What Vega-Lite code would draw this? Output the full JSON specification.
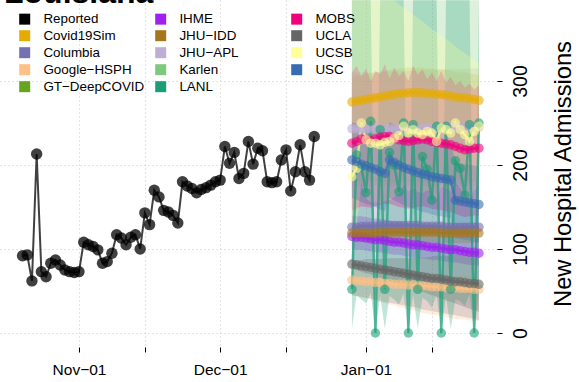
{
"$schema":"https://vega.github.io/schema/vega-lite/v6.json",
"width":497,"height":347,"autosize":"none",
"padding":{"left":0,"top":0,"right":82,"bottom":35},
"background":"white",
"title":{"text":"Louisiana","anchor":"start","frame":"group","orient":"top","offset":0,"dy":35,"baseline":"alphabetic","fontSize":32,"fontWeight":"bold","font":"Liberation Sans","color":"black","dx":4},
"config":{"font":"Liberation Sans","view":{"stroke":null},
"axis":{"domain":false,"tickColor":"black","tickSize":5,"labelColor":"black","titleColor":"black","gridColor":"#c8c8c8","gridDash":[1,3],"gridWidth":1,"labelFont":"Liberation Sans","titleFont":"Liberation Sans"},
"legend":{"orient":"none","legendX":18,"legendY":12,"columns":3,"gridAlign":"all","columnPadding":9,"rowPadding":2,"symbolType":"square","symbolSize":121,"symbolOpacity":1,"symbolStrokeWidth":0,"labelFontSize":13.4,"labelFont":"Liberation Sans","labelColor":"black","labelOffset":12,"padding":0,"titlePadding":0}},
"datasets":{
"rep":[
{"m":"Reported","d":"2020-10-20","v":92},{"m":"Reported","d":"2020-10-21","v":93},{"m":"Reported","d":"2020-10-22","v":62},{"m":"Reported","d":"2020-10-23","v":213},{"m":"Reported","d":"2020-10-24","v":73},{"m":"Reported","d":"2020-10-25","v":67},{"m":"Reported","d":"2020-10-26","v":83},{"m":"Reported","d":"2020-10-27","v":87},{"m":"Reported","d":"2020-10-28","v":81},{"m":"Reported","d":"2020-10-29","v":75},{"m":"Reported","d":"2020-10-30","v":73},{"m":"Reported","d":"2020-10-31","v":72},
{"m":"Reported","d":"2020-11-01","v":73},{"m":"Reported","d":"2020-11-02","v":108},{"m":"Reported","d":"2020-11-03","v":105},{"m":"Reported","d":"2020-11-04","v":103},{"m":"Reported","d":"2020-11-05","v":99},{"m":"Reported","d":"2020-11-06","v":83},{"m":"Reported","d":"2020-11-07","v":85},{"m":"Reported","d":"2020-11-08","v":95},{"m":"Reported","d":"2020-11-09","v":117},{"m":"Reported","d":"2020-11-10","v":113},
{"m":"Reported","d":"2020-11-11","v":105},{"m":"Reported","d":"2020-11-12","v":114},{"m":"Reported","d":"2020-11-13","v":117},{"m":"Reported","d":"2020-11-14","v":100},{"m":"Reported","d":"2020-11-15","v":143},{"m":"Reported","d":"2020-11-16","v":129},{"m":"Reported","d":"2020-11-17","v":170},{"m":"Reported","d":"2020-11-18","v":162},{"m":"Reported","d":"2020-11-19","v":146},{"m":"Reported","d":"2020-11-20","v":144},
{"m":"Reported","d":"2020-11-21","v":140},{"m":"Reported","d":"2020-11-22","v":131},{"m":"Reported","d":"2020-11-23","v":180},{"m":"Reported","d":"2020-11-24","v":175},{"m":"Reported","d":"2020-11-25","v":172},{"m":"Reported","d":"2020-11-26","v":167},{"m":"Reported","d":"2020-11-27","v":171},{"m":"Reported","d":"2020-11-28","v":173},{"m":"Reported","d":"2020-11-29","v":176},{"m":"Reported","d":"2020-11-30","v":180},
{"m":"Reported","d":"2020-12-01","v":182},{"m":"Reported","d":"2020-12-02","v":222},{"m":"Reported","d":"2020-12-03","v":202},{"m":"Reported","d":"2020-12-04","v":215},{"m":"Reported","d":"2020-12-05","v":184},{"m":"Reported","d":"2020-12-06","v":190},{"m":"Reported","d":"2020-12-07","v":228},{"m":"Reported","d":"2020-12-08","v":201},{"m":"Reported","d":"2020-12-09","v":220},{"m":"Reported","d":"2020-12-10","v":217},
{"m":"Reported","d":"2020-12-11","v":180},{"m":"Reported","d":"2020-12-12","v":179},{"m":"Reported","d":"2020-12-13","v":180},{"m":"Reported","d":"2020-12-14","v":206},{"m":"Reported","d":"2020-12-15","v":218},{"m":"Reported","d":"2020-12-16","v":169},{"m":"Reported","d":"2020-12-17","v":192},{"m":"Reported","d":"2020-12-18","v":224},{"m":"Reported","d":"2020-12-19","v":192},{"m":"Reported","d":"2020-12-20","v":182},{"m":"Reported","d":"2020-12-21","v":234}
],
"fc":[
{"m":"Covid19Sim","d":"2020-12-29","v":275,"lo":230,"hi":305},{"m":"Covid19Sim","d":"2020-12-30","v":276,"lo":231,"hi":306},{"m":"Covid19Sim","d":"2020-12-31","v":277,"lo":232,"hi":307},{"m":"Covid19Sim","d":"2021-01-01","v":278,"lo":233,"hi":308},{"m":"Covid19Sim","d":"2021-01-02","v":279,"lo":234,"hi":309},{"m":"Covid19Sim","d":"2021-01-03","v":280,"lo":235,"hi":310},{"m":"Covid19Sim","d":"2021-01-04","v":281,"lo":236,"hi":311},{"m":"Covid19Sim","d":"2021-01-05","v":282,"lo":237,"hi":312},{"m":"Covid19Sim","d":"2021-01-06","v":283,"lo":238,"hi":313},{"m":"Covid19Sim","d":"2021-01-07","v":284,"lo":239,"hi":314},{"m":"Covid19Sim","d":"2021-01-08","v":285,"lo":240,"hi":315},{"m":"Covid19Sim","d":"2021-01-09","v":285,"lo":240,"hi":315},{"m":"Covid19Sim","d":"2021-01-10","v":286,"lo":241,"hi":316},{"m":"Covid19Sim","d":"2021-01-11","v":286,"lo":241,"hi":316},{"m":"Covid19Sim","d":"2021-01-12","v":286,"lo":241,"hi":316},{"m":"Covid19Sim","d":"2021-01-13","v":286,"lo":241,"hi":316},{"m":"Covid19Sim","d":"2021-01-14","v":285,"lo":240,"hi":315},{"m":"Covid19Sim","d":"2021-01-15","v":285,"lo":240,"hi":315},{"m":"Covid19Sim","d":"2021-01-16","v":284,"lo":239,"hi":314},{"m":"Covid19Sim","d":"2021-01-17","v":284,"lo":239,"hi":314},{"m":"Covid19Sim","d":"2021-01-18","v":283,"lo":238,"hi":313},{"m":"Covid19Sim","d":"2021-01-19","v":282,"lo":237,"hi":312},{"m":"Covid19Sim","d":"2021-01-20","v":281,"lo":236,"hi":311},{"m":"Covid19Sim","d":"2021-01-21","v":280,"lo":235,"hi":310},{"m":"Covid19Sim","d":"2021-01-22","v":280,"lo":235,"hi":310},{"m":"Covid19Sim","d":"2021-01-23","v":279,"lo":234,"hi":309},{"m":"Covid19Sim","d":"2021-01-24","v":278,"lo":233,"hi":308},{"m":"Covid19Sim","d":"2021-01-25","v":277,"lo":232,"hi":307},
{"m":"Columbia","d":"2020-12-29","v":126,"lo":45,"hi":225},{"m":"Columbia","d":"2020-12-30","v":126,"lo":44,"hi":226},{"m":"Columbia","d":"2020-12-31","v":127,"lo":43,"hi":227},{"m":"Columbia","d":"2021-01-01","v":127,"lo":42,"hi":228},{"m":"Columbia","d":"2021-01-02","v":127,"lo":41,"hi":229},{"m":"Columbia","d":"2021-01-03","v":127,"lo":40,"hi":230},{"m":"Columbia","d":"2021-01-04","v":128,"lo":38,"hi":231},{"m":"Columbia","d":"2021-01-05","v":128,"lo":37,"hi":232},{"m":"Columbia","d":"2021-01-06","v":128,"lo":36,"hi":233},{"m":"Columbia","d":"2021-01-07","v":128,"lo":35,"hi":234},{"m":"Columbia","d":"2021-01-08","v":128,"lo":34,"hi":235},{"m":"Columbia","d":"2021-01-09","v":128,"lo":33,"hi":236},{"m":"Columbia","d":"2021-01-10","v":128,"lo":32,"hi":237},{"m":"Columbia","d":"2021-01-11","v":128,"lo":31,"hi":238},{"m":"Columbia","d":"2021-01-12","v":128,"lo":30,"hi":239},{"m":"Columbia","d":"2021-01-13","v":127,"lo":28,"hi":240},{"m":"Columbia","d":"2021-01-14","v":127,"lo":27,"hi":241},{"m":"Columbia","d":"2021-01-15","v":127,"lo":26,"hi":242},{"m":"Columbia","d":"2021-01-16","v":127,"lo":25,"hi":243},{"m":"Columbia","d":"2021-01-17","v":127,"lo":24,"hi":244},{"m":"Columbia","d":"2021-01-18","v":126,"lo":23,"hi":245},{"m":"Columbia","d":"2021-01-19","v":126,"lo":22,"hi":246},{"m":"Columbia","d":"2021-01-20","v":126,"lo":21,"hi":247},{"m":"Columbia","d":"2021-01-21","v":126,"lo":20,"hi":248},{"m":"Columbia","d":"2021-01-22","v":126,"lo":19,"hi":249},{"m":"Columbia","d":"2021-01-23","v":126,"lo":18,"hi":250},{"m":"Columbia","d":"2021-01-24","v":126,"lo":17,"hi":251},{"m":"Columbia","d":"2021-01-25","v":126,"lo":15,"hi":252},
{"m":"Google-HSPH","d":"2020-12-29","v":63,"lo":45,"hi":78},{"m":"Google-HSPH","d":"2020-12-30","v":62,"lo":44,"hi":77},{"m":"Google-HSPH","d":"2020-12-31","v":62,"lo":42,"hi":77},{"m":"Google-HSPH","d":"2021-01-01","v":61,"lo":41,"hi":76},{"m":"Google-HSPH","d":"2021-01-02","v":61,"lo":40,"hi":76},{"m":"Google-HSPH","d":"2021-01-03","v":60,"lo":38,"hi":75},{"m":"Google-HSPH","d":"2021-01-04","v":60,"lo":37,"hi":75},{"m":"Google-HSPH","d":"2021-01-05","v":59,"lo":35,"hi":74},{"m":"Google-HSPH","d":"2021-01-06","v":59,"lo":34,"hi":74},{"m":"Google-HSPH","d":"2021-01-07","v":58,"lo":33,"hi":73},{"m":"Google-HSPH","d":"2021-01-08","v":58,"lo":31,"hi":73},{"m":"Google-HSPH","d":"2021-01-09","v":58,"lo":30,"hi":73},{"m":"Google-HSPH","d":"2021-01-10","v":57,"lo":28,"hi":72},{"m":"Google-HSPH","d":"2021-01-11","v":57,"lo":27,"hi":72},{"m":"Google-HSPH","d":"2021-01-12","v":56,"lo":26,"hi":71},{"m":"Google-HSPH","d":"2021-01-13","v":56,"lo":24,"hi":71},{"m":"Google-HSPH","d":"2021-01-14","v":56,"lo":23,"hi":71},{"m":"Google-HSPH","d":"2021-01-15","v":55,"lo":22,"hi":70},{"m":"Google-HSPH","d":"2021-01-16","v":55,"lo":21,"hi":70},{"m":"Google-HSPH","d":"2021-01-17","v":55,"lo":20,"hi":70},{"m":"Google-HSPH","d":"2021-01-18","v":54,"lo":19,"hi":69},{"m":"Google-HSPH","d":"2021-01-19","v":54,"lo":18,"hi":69},{"m":"Google-HSPH","d":"2021-01-20","v":54,"lo":17,"hi":69},{"m":"Google-HSPH","d":"2021-01-21","v":53,"lo":16,"hi":68},{"m":"Google-HSPH","d":"2021-01-22","v":53,"lo":16,"hi":68},{"m":"Google-HSPH","d":"2021-01-23","v":53,"lo":15,"hi":68},{"m":"Google-HSPH","d":"2021-01-24","v":52,"lo":15,"hi":67},{"m":"Google-HSPH","d":"2021-01-25","v":52,"lo":15,"hi":67},
{"m":"IHME","d":"2020-12-29","v":115,"lo":100,"hi":140},{"m":"IHME","d":"2020-12-30","v":114,"lo":99,"hi":139},{"m":"IHME","d":"2020-12-31","v":114,"lo":99,"hi":139},{"m":"IHME","d":"2021-01-01","v":113,"lo":98,"hi":138},{"m":"IHME","d":"2021-01-02","v":112,"lo":97,"hi":137},{"m":"IHME","d":"2021-01-03","v":111,"lo":96,"hi":136},{"m":"IHME","d":"2021-01-04","v":111,"lo":96,"hi":136},{"m":"IHME","d":"2021-01-05","v":110,"lo":95,"hi":135},{"m":"IHME","d":"2021-01-06","v":109,"lo":94,"hi":134},{"m":"IHME","d":"2021-01-07","v":108,"lo":93,"hi":133},{"m":"IHME","d":"2021-01-08","v":108,"lo":93,"hi":133},{"m":"IHME","d":"2021-01-09","v":107,"lo":92,"hi":132},{"m":"IHME","d":"2021-01-10","v":106,"lo":91,"hi":131},{"m":"IHME","d":"2021-01-11","v":105,"lo":90,"hi":130},{"m":"IHME","d":"2021-01-12","v":105,"lo":90,"hi":130},{"m":"IHME","d":"2021-01-13","v":104,"lo":89,"hi":129},{"m":"IHME","d":"2021-01-14","v":103,"lo":88,"hi":128},{"m":"IHME","d":"2021-01-15","v":102,"lo":87,"hi":127},{"m":"IHME","d":"2021-01-16","v":102,"lo":87,"hi":127},{"m":"IHME","d":"2021-01-17","v":101,"lo":86,"hi":126},{"m":"IHME","d":"2021-01-18","v":100,"lo":85,"hi":125},{"m":"IHME","d":"2021-01-19","v":99,"lo":84,"hi":124},{"m":"IHME","d":"2021-01-20","v":99,"lo":84,"hi":124},{"m":"IHME","d":"2021-01-21","v":98,"lo":83,"hi":123},{"m":"IHME","d":"2021-01-22","v":97,"lo":82,"hi":122},{"m":"IHME","d":"2021-01-23","v":96,"lo":81,"hi":121},{"m":"IHME","d":"2021-01-24","v":96,"lo":81,"hi":121},{"m":"IHME","d":"2021-01-25","v":95,"lo":80,"hi":120},
{"m":"JHU-IDD","d":"2020-12-29","v":119,"lo":108,"hi":130},{"m":"JHU-IDD","d":"2020-12-30","v":119,"lo":108,"hi":130},{"m":"JHU-IDD","d":"2020-12-31","v":119,"lo":108,"hi":130},{"m":"JHU-IDD","d":"2021-01-01","v":119,"lo":108,"hi":130},{"m":"JHU-IDD","d":"2021-01-02","v":119,"lo":108,"hi":130},{"m":"JHU-IDD","d":"2021-01-03","v":119,"lo":108,"hi":130},{"m":"JHU-IDD","d":"2021-01-04","v":120,"lo":108,"hi":131},{"m":"JHU-IDD","d":"2021-01-05","v":120,"lo":108,"hi":131},{"m":"JHU-IDD","d":"2021-01-06","v":120,"lo":108,"hi":131},{"m":"JHU-IDD","d":"2021-01-07","v":120,"lo":108,"hi":131},{"m":"JHU-IDD","d":"2021-01-08","v":120,"lo":108,"hi":131},{"m":"JHU-IDD","d":"2021-01-09","v":120,"lo":108,"hi":131},{"m":"JHU-IDD","d":"2021-01-10","v":120,"lo":108,"hi":131},{"m":"JHU-IDD","d":"2021-01-11","v":120,"lo":108,"hi":131},{"m":"JHU-IDD","d":"2021-01-12","v":120,"lo":108,"hi":131},{"m":"JHU-IDD","d":"2021-01-13","v":120,"lo":108,"hi":131},{"m":"JHU-IDD","d":"2021-01-14","v":120,"lo":108,"hi":131},{"m":"JHU-IDD","d":"2021-01-15","v":120,"lo":108,"hi":131},{"m":"JHU-IDD","d":"2021-01-16","v":120,"lo":108,"hi":131},{"m":"JHU-IDD","d":"2021-01-17","v":119,"lo":107,"hi":131},{"m":"JHU-IDD","d":"2021-01-18","v":119,"lo":107,"hi":131},{"m":"JHU-IDD","d":"2021-01-19","v":119,"lo":107,"hi":131},{"m":"JHU-IDD","d":"2021-01-20","v":119,"lo":107,"hi":131},{"m":"JHU-IDD","d":"2021-01-21","v":119,"lo":107,"hi":131},{"m":"JHU-IDD","d":"2021-01-22","v":119,"lo":107,"hi":131},{"m":"JHU-IDD","d":"2021-01-23","v":119,"lo":107,"hi":131},{"m":"JHU-IDD","d":"2021-01-24","v":119,"lo":107,"hi":131},{"m":"JHU-IDD","d":"2021-01-25","v":119,"lo":107,"hi":131},
{"m":"JHU-APL","d":"2020-12-29","v":243,"lo":175,"hi":310},{"m":"JHU-APL","d":"2020-12-30","v":243,"lo":175,"hi":310},{"m":"JHU-APL","d":"2020-12-31","v":243,"lo":175,"hi":310},{"m":"JHU-APL","d":"2021-01-01","v":243,"lo":175,"hi":310},{"m":"JHU-APL","d":"2021-01-02","v":243,"lo":175,"hi":310},{"m":"JHU-APL","d":"2021-01-03","v":243,"lo":175,"hi":310},{"m":"JHU-APL","d":"2021-01-04","v":243,"lo":175,"hi":311},{"m":"JHU-APL","d":"2021-01-05","v":243,"lo":175,"hi":311},{"m":"JHU-APL","d":"2021-01-06","v":243,"lo":175,"hi":311},{"m":"JHU-APL","d":"2021-01-07","v":243,"lo":175,"hi":311},{"m":"JHU-APL","d":"2021-01-08","v":244,"lo":175,"hi":312},{"m":"JHU-APL","d":"2021-01-09","v":244,"lo":175,"hi":312},{"m":"JHU-APL","d":"2021-01-10","v":244,"lo":175,"hi":312},{"m":"JHU-APL","d":"2021-01-11","v":244,"lo":175,"hi":312},{"m":"JHU-APL","d":"2021-01-12","v":244,"lo":175,"hi":312},{"m":"JHU-APL","d":"2021-01-13","v":244,"lo":175,"hi":313},{"m":"JHU-APL","d":"2021-01-14","v":244,"lo":175,"hi":313},{"m":"JHU-APL","d":"2021-01-15","v":244,"lo":175,"hi":313},{"m":"JHU-APL","d":"2021-01-16","v":244,"lo":175,"hi":313},{"m":"JHU-APL","d":"2021-01-17","v":244,"lo":175,"hi":313},{"m":"JHU-APL","d":"2021-01-18","v":245,"lo":175,"hi":314},{"m":"JHU-APL","d":"2021-01-19","v":245,"lo":175,"hi":314},{"m":"JHU-APL","d":"2021-01-20","v":245,"lo":175,"hi":314},{"m":"JHU-APL","d":"2021-01-21","v":245,"lo":175,"hi":314},{"m":"JHU-APL","d":"2021-01-22","v":245,"lo":175,"hi":314},{"m":"JHU-APL","d":"2021-01-23","v":245,"lo":175,"hi":315},{"m":"JHU-APL","d":"2021-01-24","v":245,"lo":175,"hi":315},{"m":"JHU-APL","d":"2021-01-25","v":245,"lo":175,"hi":315},
{"m":"Karlen","d":"2020-12-29","v":null,"lo":180,"hi":396},{"m":"Karlen","d":"2021-01-25","v":null,"lo":180,"hi":396},
{"m":"LANL","d":"2020-12-29","v":52,"lo":5,"hi":396},{"m":"LANL","d":"2020-12-30","v":212,"lo":45,"hi":396},{"m":"LANL","d":"2020-12-31","v":198,"lo":40,"hi":396},{"m":"LANL","d":"2021-01-01","v":167,"lo":35,"hi":396},{"m":"LANL","d":"2021-01-02","v":252,"lo":48,"hi":396},{"m":"LANL","d":"2021-01-03","v":0,"lo":0,"hi":8},{"m":"LANL","d":"2021-01-04","v":242,"lo":45,"hi":396},
{"m":"LANL","d":"2021-01-05","v":52,"lo":5,"hi":396},{"m":"LANL","d":"2021-01-06","v":215,"lo":44,"hi":396},{"m":"LANL","d":"2021-01-07","v":200,"lo":40,"hi":396},{"m":"LANL","d":"2021-01-08","v":168,"lo":34,"hi":396},{"m":"LANL","d":"2021-01-09","v":250,"lo":47,"hi":396},{"m":"LANL","d":"2021-01-10","v":0,"lo":0,"hi":8},{"m":"LANL","d":"2021-01-11","v":248,"lo":46,"hi":396},
{"m":"LANL","d":"2021-01-12","v":52,"lo":5,"hi":396},{"m":"LANL","d":"2021-01-13","v":210,"lo":42,"hi":396},{"m":"LANL","d":"2021-01-14","v":195,"lo":38,"hi":396},{"m":"LANL","d":"2021-01-15","v":158,"lo":30,"hi":396},{"m":"LANL","d":"2021-01-16","v":246,"lo":45,"hi":396},{"m":"LANL","d":"2021-01-17","v":0,"lo":0,"hi":8},{"m":"LANL","d":"2021-01-18","v":246,"lo":44,"hi":396},
{"m":"LANL","d":"2021-01-19","v":52,"lo":5,"hi":396},{"m":"LANL","d":"2021-01-20","v":205,"lo":40,"hi":396},{"m":"LANL","d":"2021-01-21","v":196,"lo":38,"hi":396},{"m":"LANL","d":"2021-01-22","v":164,"lo":32,"hi":396},{"m":"LANL","d":"2021-01-23","v":248,"lo":46,"hi":396},{"m":"LANL","d":"2021-01-24","v":0,"lo":0,"hi":8},{"m":"LANL","d":"2021-01-25","v":250,"lo":45,"hi":396},
{"m":"MOBS","d":"2020-12-29","v":226,"lo":146,"hi":310},{"m":"MOBS","d":"2020-12-30","v":228,"lo":148,"hi":318},{"m":"MOBS","d":"2020-12-31","v":231,"lo":151,"hi":305},{"m":"MOBS","d":"2021-01-01","v":230,"lo":150,"hi":315},{"m":"MOBS","d":"2021-01-02","v":229,"lo":149,"hi":300},{"m":"MOBS","d":"2021-01-03","v":231,"lo":151,"hi":312},{"m":"MOBS","d":"2021-01-04","v":233,"lo":153,"hi":308},{"m":"MOBS","d":"2021-01-05","v":234,"lo":154,"hi":320},{"m":"MOBS","d":"2021-01-06","v":234,"lo":154,"hi":303},{"m":"MOBS","d":"2021-01-07","v":232,"lo":152,"hi":316},{"m":"MOBS","d":"2021-01-08","v":230,"lo":150,"hi":306},{"m":"MOBS","d":"2021-01-09","v":229,"lo":149,"hi":312},{"m":"MOBS","d":"2021-01-10","v":228,"lo":148,"hi":300},{"m":"MOBS","d":"2021-01-11","v":229,"lo":149,"hi":318},{"m":"MOBS","d":"2021-01-12","v":230,"lo":150,"hi":307},{"m":"MOBS","d":"2021-01-13","v":231,"lo":151,"hi":314},{"m":"MOBS","d":"2021-01-14","v":230,"lo":150,"hi":302},{"m":"MOBS","d":"2021-01-15","v":228,"lo":148,"hi":310},{"m":"MOBS","d":"2021-01-16","v":227,"lo":147,"hi":300},{"m":"MOBS","d":"2021-01-17","v":226,"lo":146,"hi":312},{"m":"MOBS","d":"2021-01-18","v":225,"lo":145,"hi":298},{"m":"MOBS","d":"2021-01-19","v":224,"lo":144,"hi":305},{"m":"MOBS","d":"2021-01-20","v":222,"lo":142,"hi":295},{"m":"MOBS","d":"2021-01-21","v":220,"lo":140,"hi":300},{"m":"MOBS","d":"2021-01-22","v":218,"lo":138,"hi":292},{"m":"MOBS","d":"2021-01-23","v":219,"lo":139,"hi":297},{"m":"MOBS","d":"2021-01-24","v":220,"lo":140,"hi":290},{"m":"MOBS","d":"2021-01-25","v":220,"lo":140,"hi":295},
{"m":"UCLA","d":"2020-12-29","v":82,"lo":77,"hi":87},{"m":"UCLA","d":"2020-12-30","v":81,"lo":75,"hi":87},{"m":"UCLA","d":"2020-12-31","v":80,"lo":73,"hi":87},{"m":"UCLA","d":"2021-01-01","v":79,"lo":71,"hi":88},{"m":"UCLA","d":"2021-01-02","v":78,"lo":70,"hi":88},{"m":"UCLA","d":"2021-01-03","v":77,"lo":68,"hi":88},{"m":"UCLA","d":"2021-01-04","v":76,"lo":66,"hi":88},{"m":"UCLA","d":"2021-01-05","v":75,"lo":64,"hi":88},{"m":"UCLA","d":"2021-01-06","v":74,"lo":62,"hi":89},{"m":"UCLA","d":"2021-01-07","v":73,"lo":60,"hi":89},{"m":"UCLA","d":"2021-01-08","v":72,"lo":58,"hi":89},{"m":"UCLA","d":"2021-01-09","v":71,"lo":56,"hi":89},{"m":"UCLA","d":"2021-01-10","v":70,"lo":55,"hi":89},{"m":"UCLA","d":"2021-01-11","v":69,"lo":53,"hi":90},{"m":"UCLA","d":"2021-01-12","v":68,"lo":51,"hi":90},{"m":"UCLA","d":"2021-01-13","v":67,"lo":49,"hi":90},{"m":"UCLA","d":"2021-01-14","v":66,"lo":47,"hi":90},{"m":"UCLA","d":"2021-01-15","v":65,"lo":45,"hi":91},{"m":"UCLA","d":"2021-01-16","v":65,"lo":43,"hi":92},{"m":"UCLA","d":"2021-01-17","v":64,"lo":41,"hi":92},{"m":"UCLA","d":"2021-01-18","v":63,"lo":39,"hi":92},{"m":"UCLA","d":"2021-01-19","v":62,"lo":37,"hi":92},{"m":"UCLA","d":"2021-01-20","v":61,"lo":35,"hi":93},{"m":"UCLA","d":"2021-01-21","v":61,"lo":33,"hi":94},{"m":"UCLA","d":"2021-01-22","v":60,"lo":31,"hi":94},{"m":"UCLA","d":"2021-01-23","v":59,"lo":29,"hi":94},{"m":"UCLA","d":"2021-01-24","v":59,"lo":27,"hi":95},{"m":"UCLA","d":"2021-01-25","v":58,"lo":25,"hi":95},
{"m":"UCSB","d":"2020-12-29","v":186,"lo":116,"hi":396},{"m":"UCSB","d":"2020-12-30","v":196,"lo":126,"hi":396},{"m":"UCSB","d":"2020-12-31","v":250,"lo":180,"hi":396},{"m":"UCSB","d":"2021-01-01","v":230,"lo":160,"hi":396},{"m":"UCSB","d":"2021-01-02","v":226,"lo":156,"hi":396},{"m":"UCSB","d":"2021-01-03","v":226,"lo":156,"hi":396},{"m":"UCSB","d":"2021-01-04","v":224,"lo":154,"hi":396},{"m":"UCSB","d":"2021-01-05","v":227,"lo":157,"hi":396},{"m":"UCSB","d":"2021-01-06","v":228,"lo":158,"hi":396},{"m":"UCSB","d":"2021-01-07","v":232,"lo":162,"hi":396},{"m":"UCSB","d":"2021-01-08","v":235,"lo":165,"hi":391},{"m":"UCSB","d":"2021-01-09","v":246,"lo":176,"hi":387},{"m":"UCSB","d":"2021-01-10","v":238,"lo":168,"hi":383},{"m":"UCSB","d":"2021-01-11","v":242,"lo":172,"hi":379},{"m":"UCSB","d":"2021-01-12","v":238,"lo":168,"hi":375},{"m":"UCSB","d":"2021-01-13","v":236,"lo":166,"hi":371},{"m":"UCSB","d":"2021-01-14","v":240,"lo":170,"hi":366},{"m":"UCSB","d":"2021-01-15","v":238,"lo":168,"hi":362},{"m":"UCSB","d":"2021-01-16","v":228,"lo":158,"hi":358},{"m":"UCSB","d":"2021-01-17","v":244,"lo":174,"hi":354},{"m":"UCSB","d":"2021-01-18","v":242,"lo":172,"hi":350},{"m":"UCSB","d":"2021-01-19","v":238,"lo":168,"hi":346},{"m":"UCSB","d":"2021-01-20","v":250,"lo":180,"hi":341},{"m":"UCSB","d":"2021-01-21","v":242,"lo":172,"hi":337},{"m":"UCSB","d":"2021-01-22","v":236,"lo":166,"hi":333},{"m":"UCSB","d":"2021-01-23","v":228,"lo":158,"hi":329},{"m":"UCSB","d":"2021-01-24","v":240,"lo":170,"hi":325},{"m":"UCSB","d":"2021-01-25","v":246,"lo":176,"hi":321},
{"m":"USC","d":"2020-12-29","v":206,"lo":161,"hi":251},{"m":"USC","d":"2020-12-30","v":204,"lo":159,"hi":249},{"m":"USC","d":"2020-12-31","v":201,"lo":156,"hi":246},{"m":"USC","d":"2021-01-01","v":199,"lo":154,"hi":244},{"m":"USC","d":"2021-01-02","v":197,"lo":152,"hi":242},{"m":"USC","d":"2021-01-03","v":195,"lo":150,"hi":240},{"m":"USC","d":"2021-01-04","v":192,"lo":147,"hi":237},{"m":"USC","d":"2021-01-05","v":190,"lo":145,"hi":235},{"m":"USC","d":"2021-01-06","v":206,"lo":161,"hi":251},{"m":"USC","d":"2021-01-07","v":203,"lo":158,"hi":248},{"m":"USC","d":"2021-01-08","v":200,"lo":155,"hi":245},{"m":"USC","d":"2021-01-09","v":197,"lo":152,"hi":242},{"m":"USC","d":"2021-01-10","v":195,"lo":150,"hi":240},{"m":"USC","d":"2021-01-11","v":193,"lo":148,"hi":238},{"m":"USC","d":"2021-01-12","v":191,"lo":146,"hi":236},{"m":"USC","d":"2021-01-13","v":189,"lo":144,"hi":234},{"m":"USC","d":"2021-01-14","v":188,"lo":143,"hi":233},{"m":"USC","d":"2021-01-15","v":186,"lo":141,"hi":231},{"m":"USC","d":"2021-01-16","v":185,"lo":140,"hi":230},{"m":"USC","d":"2021-01-17","v":184,"lo":139,"hi":229},{"m":"USC","d":"2021-01-18","v":183,"lo":138,"hi":228},{"m":"USC","d":"2021-01-19","v":182,"lo":137,"hi":227},{"m":"USC","d":"2021-01-20","v":158,"lo":113,"hi":203},{"m":"USC","d":"2021-01-21","v":157,"lo":112,"hi":202},{"m":"USC","d":"2021-01-22","v":156,"lo":111,"hi":201},{"m":"USC","d":"2021-01-23","v":155,"lo":110,"hi":200},{"m":"USC","d":"2021-01-24","v":154,"lo":109,"hi":199},{"m":"USC","d":"2021-01-25","v":153,"lo":108,"hi":198}
]},
"layer":[
{"data":{"name":"fc"},"mark":{"type":"area","opacity":0.27,"clip":true},
 "encoding":{
  "x":{"field":"d","type":"temporal","scale":{"type":"utc","domain":[{"year":2020,"month":10,"date":15,"hours":5,"minutes":2,"utc":true},{"year":2021,"month":1,"date":28,"hours":20,"minutes":10,"utc":true}]},
   "axis":{"title":null,"orient":"bottom","values":[{"year":2020,"month":11,"date":1,"utc":true},{"year":2020,"month":11,"date":15,"utc":true},{"year":2020,"month":12,"date":1,"utc":true},{"year":2020,"month":12,"date":15,"utc":true},{"year":2021,"month":1,"date":1,"utc":true},{"year":2021,"month":1,"date":15,"utc":true}],
   "labelExpr":"utcdate(datum.value) == 1 ? utcFormat(datum.value, '%b') + '\u2212' + utcFormat(datum.value, '%d') : ''","labelFontSize":15.5,"labelPadding":10,"grid":true,"labelFlush":false,"labelOverlap":false}},
  "y":{"field":"lo","type":"quantitative","scale":{"domain":[-16.67,396.4],"nice":false,"zero":false},
   "axis":{"orient":"right","values":[0,100,200,300],"title":"New Hospital Admissions","titleFontSize":23.7,"titleFontWeight":"normal","titleAngle":270,"titleX":66,"titleY":173.5,"titleAlign":"center","titleBaseline":"middle","labelAngle":270,"labelAlign":"center","labelBaseline":"middle","labelFontSize":19.5,"labelPadding":18,"grid":true}},
  "y2":{"field":"hi"},
  "color":{"field":"m","type":"nominal","scale":{"domain":["Reported","Covid19Sim","Columbia","Google-HSPH","GT-DeepCOVID","IHME","JHU-IDD","JHU-APL","Karlen","LANL","MOBS","UCLA","UCSB","USC"],"range":["#000000","#E6AB02","#7570B3","#FDC086","#66A61E","#A020F0","#A6761D","#BEAED4","#7FC97F","#1B9E77","#F0027F","#666666","#FFFF99","#386CB0"]},
   "legend":{"title":null,"labelExpr":"replace(datum.label, '-', '\u2212')"}}}},
{"data":{"name":"rep"},"mark":{"type":"line","strokeWidth":2,"opacity":0.75},
 "encoding":{"x":{"field":"d","type":"temporal"},"y":{"field":"v","type":"quantitative"},"color":{"field":"m","type":"nominal"}}},
{"data":{"name":"rep"},"mark":{"type":"circle","size":130,"opacity":0.75},
 "encoding":{"x":{"field":"d","type":"temporal"},"y":{"field":"v","type":"quantitative"},"color":{"field":"m","type":"nominal"}}},
{"data":{"name":"fc"},"mark":{"type":"line","strokeWidth":2.5,"opacity":0.7,"clip":true},
 "encoding":{"x":{"field":"d","type":"temporal"},"y":{"field":"v","type":"quantitative"},"color":{"field":"m","type":"nominal"}}},
{"data":{"name":"fc"},"mark":{"type":"circle","size":90,"opacity":0.6,"clip":true},
 "encoding":{"x":{"field":"d","type":"temporal"},"y":{"field":"v","type":"quantitative"},"color":{"field":"m","type":"nominal"}}},
{"mark":{"type":"rule","color":"black","strokeWidth":1},
 "encoding":{"x":{"datum":{"year":2020,"month":11,"date":1,"utc":true},"type":"temporal"},"x2":{"datum":{"year":2021,"month":1,"date":15,"utc":true}},"y":{"datum":-16.67,"type":"quantitative"}}},
{"mark":{"type":"rule","color":"black","strokeWidth":1},
 "encoding":{"x":{"datum":{"year":2021,"month":1,"date":28,"hours":20,"minutes":10,"utc":true},"type":"temporal"},"y":{"datum":0,"type":"quantitative"},"y2":{"datum":396.4}}}
]
}
